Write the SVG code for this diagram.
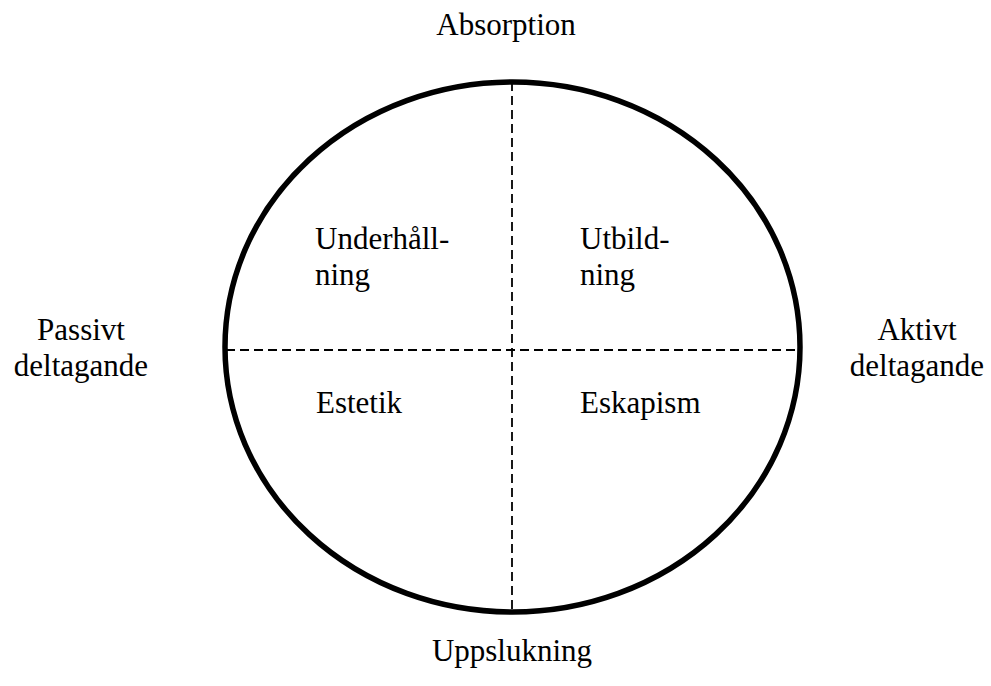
<svg xmlns="http://www.w3.org/2000/svg" width="991" height="686" viewBox="0 0 991 686">
<style>
text{font-family:"Liberation Serif","Times New Roman",serif;font-size:31px;fill:#000}
.dash{stroke:#000;stroke-width:1.8;stroke-dasharray:9 5;fill:none}
</style>
<rect width="991" height="686" fill="#fff"/>
<g id="connectors">
<line class="dash" x1="512" y1="82" x2="512" y2="612"/>
<line class="dash" x1="226" y1="350" x2="799" y2="350"/>
</g>
<g id="circle"><ellipse cx="512.5" cy="347" rx="287.5" ry="265" fill="none" stroke="#000" stroke-width="5.5"/></g>
<g id="absorption"><text x="506" y="35" text-anchor="middle">Absorption</text></g>
<g id="uppslukning"><text x="512" y="661" text-anchor="middle">Uppslukning</text></g>
<g id="passivt"><text x="81" y="340" text-anchor="middle">Passivt</text><text x="81" y="376" text-anchor="middle">deltagande</text></g>
<g id="aktivt"><text x="917" y="340" text-anchor="middle">Aktivt</text><text x="917" y="376" text-anchor="middle">deltagande</text></g>
<g id="underhallning"><text x="315" y="249">Underhåll-</text><text x="315" y="285">ning</text></g>
<g id="utbildning"><text x="580" y="249">Utbild-</text><text x="580" y="285">ning</text></g>
<g id="estetik"><text x="316" y="413">Estetik</text></g>
<g id="eskapism"><text x="580" y="413">Eskapism</text></g>
</svg>
